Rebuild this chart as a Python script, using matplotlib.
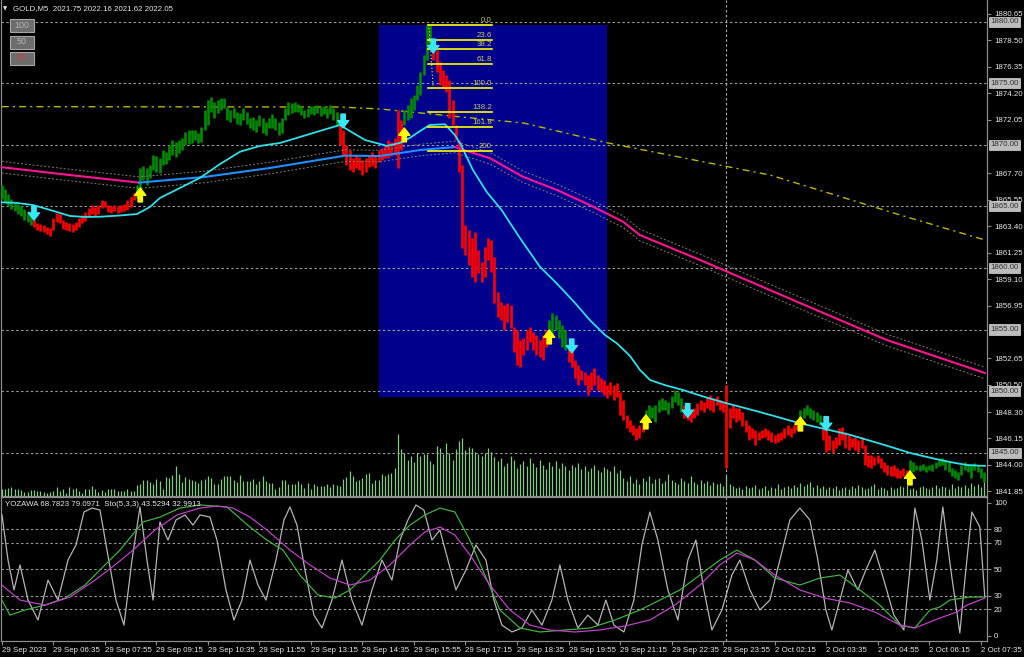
import matplotlib
matplotlib.use('Agg')
import matplotlib.pyplot as plt
from matplotlib.patches import Rectangle
from matplotlib.transforms import blended_transform_factory

plt.rcParams['font.family'] = ['Liberation Sans', 'DejaVu Sans']
FS = 5.7

# ---------------- data ----------------
title_text = "GOLD,M5  2021.75 2022.16 2021.62 2022.05"
osc_text = "YOZAWA 68.7823 79.0971  Sto(5,3,3) 43.5294 32.9913"

bar_hi = [1866.70,1866.40,1866.00,1865.60,1865.30,1865.20,1865.00,1864.80,1864.60,1864.50,
 1863.90,1863.66,1863.57,1863.49,1863.33,1863.25,1864.06,1864.46,1864.38,1863.90,
 1863.73,1863.65,1863.57,1863.73,1864.06,1864.30,1864.55,1864.87,1865.11,1864.95,
 1865.11,1865.52,1865.44,1865.11,1865.03,1865.11,1865.03,1865.11,1865.19,1865.52,
 1865.76,1866.09,1866.73,1868.12,1868.28,1868.12,1868.36,1869.17,1869.09,1868.93,
 1869.58,1869.42,1869.98,1870.39,1870.23,1870.39,1870.55,1871.04,1871.21,1871.21,
 1871.21,1870.96,1871.45,1872.83,1873.64,1873.89,1873.48,1873.64,1873.80,1873.80,
 1873.07,1872.83,1872.99,1872.67,1872.59,1872.99,1872.67,1872.18,1872.26,1872.02,
 1872.42,1872.18,1871.86,1872.18,1872.50,1872.18,1871.86,1872.18,1872.99,1873.48,
 1873.40,1873.48,1873.32,1873.15,1872.83,1872.99,1873.15,1873.15,1873.24,1873.07,
 1873.15,1872.99,1873.24,1872.99,1872.67,1871.61,1871.21,1869.98,1869.58,1868.93,
 1869.17,1869.01,1868.77,1868.93,1869.17,1869.42,1869.09,1869.58,1869.74,1869.98,
 1870.39,1870.23,1870.55,1872.83,1872.02,1872.83,1873.24,1873.80,1874.05,1874.86,
 1875.92,1877.30,1879.73,1879.73,1878.51,1877.70,1876.73,1876.08,1875.67,1875.27,
 1873.64,1871.61,1870.39,1868.34,1863.49,1863.08,1862.43,1862.92,1861.46,1860.48,
 1861.70,1862.43,1862.27,1860.89,1858.05,1857.24,1857.00,1857.16,1857.00,1855.20,
 1854.96,1854.15,1854.31,1854.96,1855.20,1854.80,1854.56,1854.15,1854.56,1854.96,
 1855.77,1856.34,1856.18,1855.77,1855.37,1854.96,1853.74,1853.34,1852.52,1852.12,
 1851.71,1851.55,1851.30,1851.55,1851.87,1851.30,1851.06,1850.90,1850.49,1850.74,
 1850.49,1850.66,1849.92,1849.27,1848.05,1847.65,1847.24,1847.00,1847.24,1847.65,
 1848.46,1848.86,1848.70,1848.86,1849.27,1849.43,1849.27,1849.11,1849.60,1850.09,
 1849.92,1849.43,1848.86,1848.46,1848.30,1848.62,1849.03,1849.27,1849.11,1849.43,
 1849.68,1849.43,1849.60,1849.27,1849.11,1850.49,1848.62,1848.86,1848.62,1848.62,
 1848.30,1847.65,1847.24,1847.00,1846.84,1846.68,1846.84,1847.00,1846.84,1846.68,
 1846.43,1846.60,1846.68,1847.00,1847.24,1847.00,1847.24,1847.65,1848.46,1848.62,
 1848.86,1848.62,1848.46,1848.30,1848.05,1847.24,1846.84,1846.43,1846.03,1846.27,
 1847.00,1847.08,1846.68,1846.43,1846.19,1846.27,1846.03,1846.27,1845.62,1844.81,
 1844.81,1844.65,1844.81,1844.57,1844.24,1844.00,1843.91,1844.00,1843.75,1843.59,
 1843.75,1843.59,1844.40,1844.24,1844.00,1844.00,1844.08,1843.91,1844.00,1844.08,
 1844.24,1844.40,1844.57,1844.40,1844.24,1843.75,1843.59,1843.43,1844.00,1844.24,
 1844.00,1844.00,1844.16,1844.00,1843.75,1843.43]

bar_lo = [1865.60,1865.30,1865.00,1864.80,1864.60,1864.40,1864.20,1863.90,1863.70,1863.50,
 1863.33,1863.08,1863.00,1862.92,1862.76,1862.60,1863.08,1863.73,1863.65,1863.16,
 1863.08,1863.00,1862.92,1863.08,1863.33,1863.65,1863.82,1864.14,1864.38,1864.22,
 1864.38,1864.87,1864.95,1864.55,1864.46,1864.63,1864.46,1864.55,1864.63,1864.71,
 1864.95,1865.52,1865.68,1866.49,1867.14,1866.73,1867.30,1867.96,1867.80,1867.72,
 1868.36,1868.44,1868.77,1869.17,1869.01,1869.34,1869.58,1869.98,1870.07,1870.15,
 1870.39,1870.15,1870.23,1871.21,1871.61,1872.67,1872.18,1872.59,1872.83,1872.99,
 1872.02,1871.86,1872.18,1871.69,1871.61,1872.02,1871.69,1871.37,1871.21,1871.04,
 1871.53,1870.96,1870.80,1871.37,1871.37,1871.21,1870.80,1870.96,1872.02,1872.42,
 1872.59,1872.67,1872.67,1872.42,1872.18,1872.26,1872.50,1872.42,1872.59,1872.34,
 1872.50,1872.18,1872.50,1872.02,1871.61,1869.98,1869.17,1868.36,1867.96,1867.80,
 1868.12,1867.96,1867.55,1867.80,1868.20,1868.28,1868.12,1868.61,1868.77,1868.93,
 1868.93,1869.09,1869.17,1868.12,1869.58,1871.61,1872.02,1872.18,1872.83,1873.64,
 1874.05,1875.67,1876.89,1878.11,1876.89,1875.92,1874.86,1874.62,1874.29,1872.18,
 1871.61,1870.39,1867.80,1861.61,1861.05,1860.24,1859.26,1858.86,1859.59,1858.86,
 1859.26,1860.65,1859.67,1857.16,1856.02,1855.77,1854.96,1855.61,1855.12,1853.17,
 1852.12,1851.96,1852.93,1853.34,1853.99,1853.34,1852.93,1852.77,1852.52,1853.58,
 1854.15,1854.56,1854.96,1854.31,1853.58,1853.34,1852.36,1851.96,1851.06,1850.49,
 1850.90,1850.49,1849.68,1850.09,1850.49,1850.09,1849.92,1849.68,1849.44,1849.68,
 1849.27,1849.52,1848.05,1847.65,1847.00,1846.68,1846.43,1846.03,1846.19,1846.68,
 1847.24,1847.65,1847.81,1847.49,1848.30,1848.46,1848.46,1848.14,1848.62,1849.11,
 1848.86,1848.30,1847.81,1847.65,1847.49,1847.81,1848.05,1848.46,1848.30,1848.62,
 1848.46,1848.30,1848.86,1848.46,1848.30,1843.75,1847.00,1847.81,1847.49,1847.65,
 1847.16,1846.68,1846.03,1846.19,1845.62,1846.03,1846.19,1846.27,1846.03,1845.87,
 1845.78,1845.87,1846.03,1846.19,1846.43,1846.27,1846.60,1846.84,1847.49,1847.81,
 1848.05,1847.81,1847.65,1847.49,1847.24,1846.03,1845.05,1845.21,1844.97,1845.38,
 1845.62,1846.03,1845.38,1845.21,1845.46,1845.21,1845.05,1845.38,1844.00,1843.83,
 1843.75,1844.00,1844.16,1843.75,1843.43,1843.18,1843.10,1843.10,1842.94,1842.94,
 1843.10,1842.94,1843.43,1843.43,1843.59,1843.51,1843.59,1843.43,1843.59,1843.51,
 1843.75,1843.91,1844.00,1843.59,1843.43,1843.10,1842.94,1842.78,1843.18,1843.59,
 1843.43,1842.94,1843.59,1843.43,1842.94,1842.62]

# runs of bar colours: (direction, count)
bar_runs = [('up', 10), ('dn', 32), ('up', 63), ('dn', 20), ('up', 9), ('dn', 36),
            ('up', 6), ('dn', 24), ('up', 12), ('dn', 36), ('up', 7), ('dn', 27), ('up', 24)]

volume = [7,7,8,9,7,7,6,4,4,6, 6,5,5,4,3,4,5,9,5,7, 3,9,7,8,5,3,7,7,10,7,
 4,6,4,7,7,7,5,5,5,7, 5,5,11,12,16,16,14,12,17,15, 7,19,18,21,30,22,14,19,17,16,
 15,13,16,17,20,18,12,12,17,20, 20,20,16,14,21,15,15,15,17,12, 15,20,15,13,13,7,9,16,16,12,
 12,12,15,12,8,13,7,12,10,10, 10,12,9,12,11,10,17,19,25,20, 15,16,18,22,23,13,16,16,22,20,
 22,23,28,62,47,43,36,40,34,43, 40,42,42,35,32,50,48,42,53,43, 36,47,55,58,46,49,48,44,42,40,
 43,48,44,39,
 35,38,30,33,40,36,28,32,35,30, 38,33,29,36,31,27,34,30,35,28, 33,30,26,31,29,33,27,30,25,28,
 31,26,24,29,27,25,30,23,26,
 18,15,20,13,17,12,18,15,20,13, 17,18,13,15,22,16,14,12,18,15, 13,20,14,12,16,13,15,11,14,12, 13,10,
 20,12,10,8,9,7,10,8,9,11, 7,8,10,6,9,8,12,7,9,10, 8,11,9,13,10,12,14,9,11,8,
 10,7,9,8,10,6,8,9,7,10, 8,11,9,7,8,10,12,7,9,8, 6,9,7,8,10,9,11,7,8,6,
 9,10,8,7,9,11,8,10,9,7, 12,8,10,9,11,8,13,10,12,9, 14]

# fast MA (cyan)
fast_x = [0,4.7,9.7,15.0,21.2,25.8,30.5,36.7,42.0,46.0,49.1,55.3,61.5,67.8,74.0,80.2,86.4,89.5,95.7,
          101.9,105.0,108.1,112.8,117.4,119.6,123.6,126.7,129.9,132.9,137.6,140.7,142.6,146.3,150.6,
          155.2,160.9,167.1,172.3,178.0,182.6,187.3,191.0,195.1,198.2,201.3,205.9,211.5,218.3,225.1,
          235.4,247.8,263.4,275.8,282.0,289.1,294.4,299.6,305.3]
fast_p = [1865.33,1865.28,1865.11,1864.71,1864.22,1864.14,1864.16,1864.26,1864.38,1864.95,1865.68,
          1866.49,1867.31,1868.44,1869.44,1869.91,1870.15,1870.39,1870.88,1871.37,1871.61,1871.12,
          1870.39,1870.07,1869.91,1870.15,1870.56,1871.12,1871.61,1871.67,1870.80,1869.99,1867.96,
          1866.17,1864.71,1862.43,1860.10,1858.75,1857.16,1855.77,1854.56,1853.88,1852.85,1851.71,
          1850.90,1850.49,1850.09,1849.52,1849.01,1848.30,1847.39,1846.45,1845.49,1844.98,1844.54,
          1844.24,1844.00,1843.92]
# slow MA (pink falling / blue rising)
slow_x = [0,21,42.6,63,83.3,106.6,117.4,130,140.7,151.6,161.8,172.4,182.6,192.9,198.1,216.8,247.8,274.8,305.3]
slow_p = [1868.18,1867.55,1866.93,1867.39,1868.12,1869.12,1869.09,1869.58,1869.82,1868.91,1867.41,
          1866.33,1865.11,1863.76,1862.68,1860.65,1857.16,1854.15,1851.47]
slow_rise_span = (2, 8)     # point indices where the slow MA is drawn blue
env_width = 0.47
# very slow MA (dash-dot olive)
vslow_x = [0,105,117.4,162,187.9,238.5,279,305.3]
vslow_p = [1873.10,1873.07,1872.91,1871.77,1870.17,1867.55,1864.30,1862.27]

# rectangle & fibonacci
rect_x = (117.1, 187.9)
rect_p = (1849.51, 1879.76)
fib_x = (132.5, 152.2)
fib_hi, fib_lo = 1879.76, 1874.61
fib_levels = [0.0, 23.6, 38.2, 61.8, 100.0, 138.2, 161.8, 200.0]
fib_labels = ["0.0", "23.6", "38.2", "61.8", "100.0", "138.2", "161.8", "200"]
fib_trend_x = (132.6, 134.0)

# arrows
up_x = [43, 125, 170, 200, 248, 282]
up_p = [1866.49, 1871.37, 1854.96, 1848.06, 1847.89, 1843.51]
dn_x = [10, 106, 134, 177, 213, 256]
dn_p = [1863.88, 1871.37, 1877.46, 1853.10, 1847.86, 1846.80]

hlines = [1880.00, 1875.00, 1870.00, 1865.00, 1860.00, 1855.00, 1850.00, 1845.00]
price_ticks = [1880.65, 1878.50, 1876.35, 1874.20, 1872.05, 1867.70, 1865.55, 1863.40,
               1861.25, 1859.10, 1856.95, 1852.65, 1850.50, 1848.30, 1846.15, 1844.00, 1841.85]
day_sep_x = 225

time_labels = ["29 Sep 2023", "29 Sep 06:35", "29 Sep 07:55", "29 Sep 09:15", "29 Sep 10:35",
               "29 Sep 11:55", "29 Sep 13:15", "29 Sep 14:35", "29 Sep 15:55", "29 Sep 17:15",
               "29 Sep 18:35", "29 Sep 19:55", "29 Sep 21:15", "29 Sep 22:35", "29 Sep 23:55",
               "2 Oct 02:15", "2 Oct 03:35", "2 Oct 04:55", "2 Oct 06:15", "2 Oct 07:35"]
time_tick_x = list(range(0, 306, 16))

# oscillator panel
violet_x = [0,5.66,13.42,21.19,28.95,35.16,40.75,47.58,54.41,61.55,66.83,71.79,77.07,82.35,89.49,95.70,
            101.91,108.12,114.33,120.54,126.75,131.40,136.06,140.71,145.37,151.58,157.79,164.00,170.21,
            177.97,185.73,193.49,201.26,209.02,216.78,222.99,228.27,233.85,240.06,247.83,255.59,263.35,
            271.12,278.88,283.54,291.30,296.58,299.68,305.26]
violet_v = [38.1,26.8,23.0,29.1,41.8,53.2,64.4,79.5,90.8,96.0,97.5,96.0,89.2,79.5,64.4,53.2,
            43.4,38.1,41.8,53.2,68.2,78.0,81.7,75.7,60.7,38.1,19.3,8.0,4.3,
            2.8,4.3,7.3,11.8,23.0,38.1,53.2,62.2,56.9,45.6,34.4,28.3,24.6,
            17.8,8.0,5.8,13.3,17.8,23.0,28.3]
green_x = [0,2.56,7.22,13.42,19.63,25.84,32.05,36.71,43.85,49.13,55.34,61.55,69.93,77.07,82.35,87.32,
           92.59,98.18,103.46,108.12,112.77,117.43,122.09,126.75,131.40,136.06,140.71,145.37,150.03,
           154.69,160.90,167.11,174.87,182.63,190.39,198.15,204.36,210.57,216.78,222.99,228.27,233.85,
           240.06,247.83,254.04,260.25,266.46,272.67,278.88,283.54,288.19,291.30,294.40,300.61,305.26]
green_v = [26.8,15.5,19.3,23.0,28.3,38.1,53.2,64.4,85.5,89.2,96.0,98.3,96.8,81.7,71.9,64.4,
           45.6,30.6,28.3,34.4,45.6,56.9,71.9,83.2,90.8,96.0,93.0,71.9,45.6,
           19.3,5.8,2.8,4.3,5.8,11.8,19.3,26.8,34.4,45.6,56.9,64.4,56.9,
           43.4,38.1,43.4,45.6,34.4,23.0,8.0,5.8,19.3,21.6,26.8,29.1,29.1]
gray_x = [0.07,1.94,3.80,5.66,8.14,11.25,14.36,17.46,20.57,23.05,25.53,28.02,30.50,32.67,35.47,37.95,
          40.44,42.92,45.09,46.96,49.13,51.61,54.10,56.89,59.37,61.55,64.65,66.83,69.62,72.10,74.59,
          77.07,79.56,82.04,85.15,87.63,89.49,91.67,94.15,96.94,99.43,102.53,105.64,108.74,111.85,
          114.95,118.06,121.16,123.64,126.13,128.61,131.09,133.58,136.06,138.54,141.03,144.13,147.23,
          150.34,152.82,155.31,158.41,161.52,164.62,167.73,170.83,173.32,175.80,178.90,182.01,185.11,
          187.60,190.08,193.19,196.29,198.77,201.26,203.74,206.85,209.95,213.06,215.54,218.02,220.51,
          223.61,226.72,229.20,232.31,235.41,238.52,241.62,244.73,247.83,250.94,253.42,255.90,257.77,
          260.25,262.73,265.84,268.32,271.12,273.91,277.02,280.12,281.98,283.54,285.71,288.19,290.36,
          292.22,294.71,297.50,299.37,301.23,303.71,305.26]
gray_v = [90.8,56.9,34.4,53.2,26.8,11.8,41.8,26.8,56.9,68.2,93.0,96.0,94.5,64.4,26.8,8.0,
          56.9,96.8,56.9,26.8,85.5,71.9,87.0,90.8,83.2,90.8,89.2,71.9,34.4,11.8,26.8,
          56.9,38.1,26.8,56.9,87.0,96.8,83.2,49.4,15.5,5.8,26.8,56.9,26.8,8.0,
          34.4,56.9,41.8,71.9,87.0,98.3,94.5,71.9,79.5,56.9,34.4,49.4,68.2,
          56.9,26.8,8.0,2.8,5.8,19.3,8.0,26.8,53.2,26.8,5.8,15.5,8.0,
          26.8,8.0,2.8,26.8,68.2,93.0,71.9,34.4,11.8,56.9,71.9,34.4,4.3,
          19.3,45.6,56.9,34.4,19.3,26.8,56.9,87.0,96.0,87.0,56.9,19.3,4.3,
          26.8,49.4,34.4,49.4,64.4,41.8,15.5,4.3,49.4,96.0,71.9,26.8,56.9,
          96.8,49.4,2.0,49.4,93.0,81.7,29.1]
osc_levels = [80, 70, 50, 30, 20]
osc_ticks = [100, 80, 70, 50, 30, 20, 0]

# ---------------- layout ----------------
W, H = 1024, 657
fig = plt.figure(figsize=(W / 100, H / 100), dpi=100, facecolor='black')

def rect_px(x0, y0, x1, y1):
    return [x0 / W, 1 - y1 / H, (x1 - x0) / W, (y1 - y0) / H]

XL = (-0.236, 305.94)
ax = fig.add_axes(rect_px(1, 0, 987, 496))
ax2 = fig.add_axes(rect_px(1, 497, 987, 641))
for a in (ax, ax2):
    a.set_facecolor('black')
    a.set_xlim(*XL)
    for s in a.spines.values():
        s.set_color('#8c8c8c')
        s.set_linewidth(0.9)
ax.spines['top'].set_visible(False)
ax.set_ylim(1841.48, 1881.76)
ax2.set_ylim(-3.98, 104.3)

grid_col = '#9c9c9c'
dash = (0, (2.2, 2.2))

# rectangle
ax.add_patch(Rectangle((rect_x[0], rect_p[0]), rect_x[1] - rect_x[0], rect_p[1] - rect_p[0],
                       facecolor='#00008c', edgecolor='none', zorder=0.5))

# horizontal lines
for p in hlines:
    ax.axhline(p, color=grid_col, lw=0.8, ls=dash, zorder=1)
ax.axvline(day_sep_x, color='#b0b0b0', lw=0.8, ls=dash, zorder=1)
ax2.axvline(day_sep_x, color='#b0b0b0', lw=0.8, ls=dash, zorder=1)

# very slow MA
ax.plot(vslow_x, vslow_p, color='#b8b800', lw=1.0, ls=(0, (5, 3, 1.5, 3)), zorder=2)

# volume on overlay axis
axv = ax.twinx()
axv.set_ylim(0, 496)
axv.set_xlim(*XL)
axv.axis('off')
axv.vlines(range(len(volume)), 0, volume, colors='#86c886', lw=0.9, zorder=1)

# bars
colors = []
for d, n in bar_runs:
    colors += (['#008a00'] if d == 'up' else ['#ff0000']) * n
nb = min(len(bar_hi), len(bar_lo), len(colors))
ax.vlines(range(nb), bar_lo[:nb], bar_hi[:nb], colors=colors[:nb], lw=1.9, zorder=3)

# envelopes
ax.plot(slow_x, [p + env_width for p in slow_p], color='#808080', lw=0.7, ls=(0, (2, 2)), zorder=3.5)
ax.plot(slow_x, [p - env_width for p in slow_p], color='#808080', lw=0.7, ls=(0, (2, 2)), zorder=3.5)
# slow MA coloured
a0, a1 = slow_rise_span
ax.plot(slow_x[:a0 + 1], slow_p[:a0 + 1], color='#ff1493', lw=1.5, zorder=4)
ax.plot(slow_x[a0:a1 + 1], slow_p[a0:a1 + 1], color='#1e90ff', lw=1.5, zorder=4)
ax.plot(slow_x[a1:], slow_p[a1:], color='#ff1493', lw=1.5, zorder=4)
# fast MA
ax.plot(fast_x, fast_p, color='#30e0e8', lw=1.3, zorder=4.2)

# fibonacci
span = fib_hi - fib_lo
for lv, lb in zip(fib_levels, fib_labels):
    p = fib_hi - span * lv / 100.0
    ax.plot(fib_x, [p, p], color='#ffff00', lw=1.2, zorder=5)
    ax.text(fib_x[1], p + 0.08, lb, color='#c8c864', fontsize=FS, ha='right', va='bottom', zorder=5)
ax.plot(fib_trend_x, [fib_hi, fib_lo], color='#ffff00', lw=0.8, ls=(0, (1, 2)), zorder=5)

# arrows
astyle = 'simple,head_length=0.75,head_width=1.15,tail_width=0.45'
for x, p in zip(up_x, up_p):
    ax.annotate('', xy=(x, p), xytext=(0, -10), textcoords='offset points',
                arrowprops=dict(arrowstyle=astyle, color='#ffff00', mutation_scale=7,
                                shrinkA=0, shrinkB=0), zorder=6)
for x, p in zip(dn_x, dn_p):
    ax.annotate('', xy=(x, p), xytext=(0, 10), textcoords='offset points',
                arrowprops=dict(arrowstyle=astyle, color='#38e8f8', mutation_scale=7,
                                shrinkA=0, shrinkB=0), zorder=6)

# main y axis
ax.yaxis.tick_right()
ax.set_yticks(price_ticks)
ax.set_yticklabels(['%.2f' % t for t in price_ticks])
ax.tick_params(axis='y', colors='#8c8c8c', labelcolor='#e8e8e8', labelsize=FS, length=3, width=0.8, pad=2)
ax.set_xticks([])
trans = blended_transform_factory(ax.transAxes, ax.transData)
for p in hlines:
    ax.text(1.0035, p, '%.2f' % p, transform=trans, fontsize=FS, color='#303030', ha='left', va='center',
            bbox=dict(boxstyle='square,pad=0.2', fc='#bcbcbc', ec='#d8d8d8', lw=0.5),
            zorder=10, clip_on=False)

# oscillator panel
for lv in osc_levels:
    ax2.axhline(lv, color=grid_col, lw=0.8, ls=dash, zorder=1)
ax2.plot(gray_x, gray_v, color='#b4b4b4', lw=0.9, zorder=3)
ax2.plot(green_x, green_v, color='#40b040', lw=0.9, zorder=4)
ax2.plot(violet_x, violet_v, color='#c040c8', lw=0.9, zorder=5)
ax2.yaxis.tick_right()
ax2.set_yticks(osc_ticks)
ax2.set_yticklabels([str(t) for t in osc_ticks])
ax2.tick_params(axis='y', colors='#8c8c8c', labelcolor='#e8e8e8', labelsize=FS, length=3, width=0.8, pad=2)
ax2.set_xticks(time_tick_x)
ax2.set_xticklabels(time_labels)
ax2.tick_params(axis='x', colors='#8c8c8c', labelcolor='#e8e8e8', labelsize=FS, length=3, width=0.8, pad=1.5)
for lbl in ax2.get_xticklabels():
    lbl.set_ha('left')

# texts
fig.text(3 / W, 1 - 9 / H, '\u25bc', color='#e0e0e0', fontsize=4.0, va='center', ha='left', family='DejaVu Sans')
fig.text(13 / W, 1 - 9 / H, title_text, color='#e8e8e8', fontsize=FS, va='center', ha='left')
fig.text(5 / W, 1 - 504 / H, osc_text, color='#e8e8e8', fontsize=FS, va='center', ha='left')

# buttons
for (y0, lab, col) in [(18, '100', '#b4b4b4'), (35, '50', '#b4b4b4'), (51, '25', '#d04040')]:
    fig.patches.append(Rectangle((9.5 / W, 1 - (y0 + 14) / H), 24 / W, 13.5 / H, transform=fig.transFigure,
                                 facecolor='#6c6c6c', edgecolor='#a8a8a8', lw=0.8))
    fig.text(21.5 / W, 1 - (y0 + 7) / H, lab, color=col, fontsize=6.5, ha='center', va='center')

fig.savefig('out.png', dpi=100, facecolor='black')
